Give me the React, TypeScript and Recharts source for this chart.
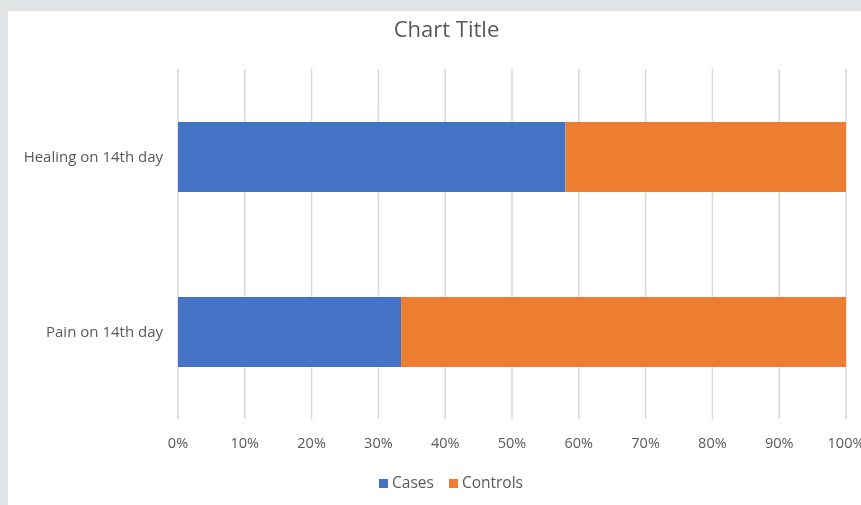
import React from "react";
import { BarChart, Bar, XAxis, YAxis, CartesianGrid, Legend } from "recharts";

const categories = ["Healing on 14th day", "Pain on 14th day"];
const casesValues = [58, 33.4];
const controlsValues = [42, 66.6];
const tickValues = [0, 0.1, 0.2, 0.3, 0.4, 0.5, 0.6, 0.7, 0.8, 0.9, 1];

const data = categories.map((name, i) => ({
  name,
  Cases: casesValues[i],
  Controls: controlsValues[i],
}));

const FONT = "'Open Sans', sans-serif";
const TEXT = "#595959";

export default function App() {
  return (
    <div style={{ position: "fixed", left: 0, top: 0, width: 861, height: 505, background: "#e1e4e5", fontFamily: FONT }}>
      <div style={{ position: "absolute", left: 8, top: 11, width: 853, height: 494, background: "#ffffff" }}>
        <div style={{ position: "absolute", left: 0, top: 2, width: 877, textAlign: "center", fontSize: 22, color: TEXT }}>
          Chart Title
        </div>
        <BarChart
          width={853}
          height={494}
          data={data}
          layout="vertical"
          stackOffset="expand"
          margin={{ top: 58, right: 15, left: 0, bottom: 34 }}
        >
          <CartesianGrid horizontal={false} vertical={true} stroke="#d9d9d9" strokeWidth={1.5} />
          <XAxis
            type="number"
            domain={[0, 1]}
            ticks={tickValues}
            tickFormatter={(v: number) => `${Math.round(v * 100)}%`}
            axisLine={false}
            tickLine={false}
            tickSize={0}
            tickMargin={19}
            interval={0}
            tick={{ fill: TEXT, fontSize: 14.5, fontFamily: FONT }}
          />
          <YAxis
            type="category"
            dataKey="name"
            width={170}
            axisLine={false}
            tickLine={false}
            tickSize={0}
            tickMargin={15}
            tick={{ fill: TEXT, fontSize: 15, fontFamily: FONT }}
          />
          <Bar dataKey="Cases" stackId="a" fill="#4472C4" barSize={70} isAnimationActive={false} />
          <Bar dataKey="Controls" stackId="a" fill="#ED7D31" barSize={70} isAnimationActive={false} />
          <Legend
            iconType="square"
            iconSize={9}
            wrapperStyle={{ position: "absolute", top: 460, left: 0, width: 896, fontSize: 15.5, fontFamily: FONT, color: TEXT }}
            formatter={(value: string) => (
              <span style={{ color: TEXT, marginRight: value === "Cases" ? 5 : 0 }}>{value}</span>
            )}
          />
        </BarChart>
      </div>
    </div>
  );
}
